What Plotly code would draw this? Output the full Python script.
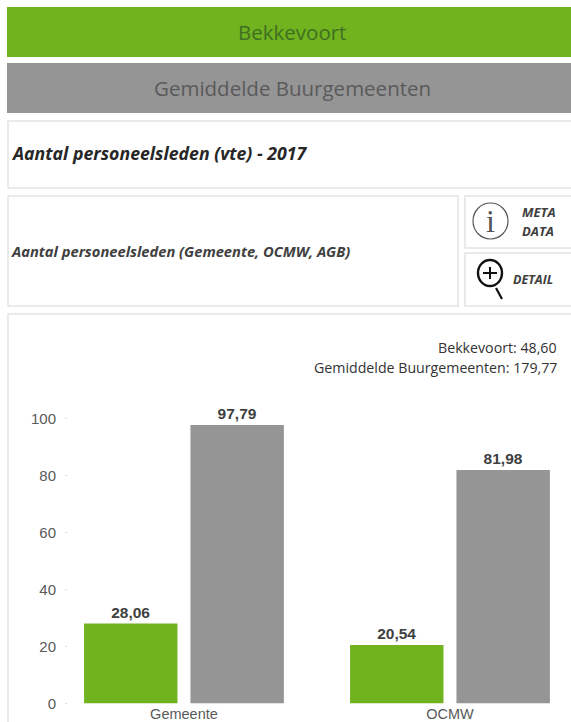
import plotly.graph_objects as go

W, H = 571, 722
categories = ["Gemeente", "OCMW"]
series_names = ["Bekkevoort", "Gemiddelde Buurgemeenten"]
bekkevoort = [28.06, 20.54]
buurgemeenten = [97.79, 81.98]
totals = [48.60, 179.77]
y_ticks = [0, 20, 40, 60, 80, 100]
title_main = "Aantal personeelsleden (vte) - 2017"
title_sub = "Aantal personeelsleden (Gemeente, OCMW, AGB)"

GREEN = "#70b31f"
GREY = "#959595"
BORDER = "#e4e4e4"
TXT = "#404040"
SANS = "'Open Sans', sans-serif"
ARIAL = "'Liberation Sans', Arial, sans-serif"


def px(x):
    return x / W


def py(y):
    return 1 - y / H


def rect(x0, y0, x1, y1, fill="white", line=BORDER, width=1.5):
    return dict(type="rect", xref="paper", yref="paper", layer="below",
                x0=px(x0), x1=px(x1), y0=py(y0), y1=py(y1),
                fillcolor=fill, line=dict(color=line, width=width))


def seg(x0, y0, x1, y1, color="#111111", width=2):
    return dict(type="line", xref="paper", yref="paper",
                x0=px(x0), x1=px(x1), y0=py(y0), y1=py(y1),
                line=dict(color=color, width=width))


def circle(x0, y0, x1, y1, color, width):
    return dict(type="circle", xref="paper", yref="paper",
                x0=px(x0), x1=px(x1), y0=py(y0), y1=py(y1),
                fillcolor="rgba(0,0,0,0)", line=dict(color=color, width=width))


def label(x, y, text, size, color=TXT, anchor="left", font=SANS, bold=False, italic=False):
    return dict(xref="paper", yref="paper", x=px(x), y=py(y), text=text,
                showarrow=False, xanchor=anchor, yanchor="middle",
                font=dict(family=font, size=size, color=color,
                          weight="bold" if bold else "normal",
                          style="italic" if italic else "normal"))


fig = go.Figure()
for name, vals, col in zip(series_names, [bekkevoort, buurgemeenten], [GREEN, GREY]):
    fig.add_trace(go.Bar(
        name=name, x=categories, y=vals, marker=dict(color=col, line=dict(width=0)),
        texttemplate="%{y:.2f}", textposition="outside", cliponaxis=False,
        textfont=dict(family=ARIAL, size=15.5, color="#3f3f3f", weight="bold"),
    ))

shapes = [
    rect(7, 7, 575, 57, GREEN, GREEN, 0),
    rect(7, 63, 575, 113, GREY, GREY, 0),
    rect(8, 121, 575, 188),
    rect(8, 196, 458, 306),
    rect(465, 196, 575, 248),
    rect(465, 253, 575, 306),
    rect(8, 314, 575, 730),
    circle(473, 203, 508, 239, "#555555", 1.2),
    circle(478, 260, 502, 286, "#111111", 2.4),
    seg(483, 273, 497, 273, "#111111", 2),
    seg(490, 267, 490, 279, "#111111", 2),
    seg(496, 288, 502, 299, "#111111", 2.2),
]

annotations = [
    label(292, 32, series_names[0], 20.5, "#3f6f22", "center"),
    label(292, 88, series_names[1], 20.5, "#5a5a5a", "center"),
    label(9, 153, title_main, 17.7, "#262626", bold=True, italic=True),
    label(9, 251, title_sub, 14.7, "#404040", bold=True, italic=True),
    label(490.5, 221, "i", 32, "#555555", "center", font="'Liberation Serif', serif"),
    label(538.5, 212, "META", 13, "#404040", "center", bold=True, italic=True),
    label(538, 231, "DATA", 13, "#404040", "center", bold=True, italic=True),
    label(533, 279, "DETAIL", 12.5, "#404040", "center", bold=True, italic=True),
    label(559, 347, f"{series_names[0]}: {totals[0]:.2f}".replace(".", ","), 14.2, "#333333", "right"),
    label(559, 367, f"{series_names[1]}: {totals[1]:.2f}".replace(".", ","), 14.2, "#333333", "right"),
]

fig.update_layout(
    width=W, height=H, autosize=False,
    margin=dict(l=0, r=0, t=0, b=0),
    paper_bgcolor="white", plot_bgcolor="rgba(0,0,0,0)",
    showlegend=False, separators=",.",
    barmode="group", bargap=0.2, bargroupgap=0.122,
    shapes=shapes, annotations=annotations,
    xaxis=dict(domain=[px(68), 1], range=[-0.436, 1.455], showgrid=False, zeroline=False,
               showline=False, ticks="", ticklen=0, automargin=False, ticklabelstandoff=0,
               tickfont=dict(family=ARIAL, size=14.5, color="#595959")),
    yaxis=dict(domain=[py(703.5), py(347.5)], range=[0, 125], tickvals=y_ticks,
               showgrid=False, zeroline=False, showline=False, automargin=False,
               ticks="outside", ticklen=2, tickcolor="#dddddd", tickwidth=1, ticklabelstandoff=6,
               tickfont=dict(family=ARIAL, size=15, color="#595959")),
)

fig.write_html("out.html", config=dict(displayModeBar=False),
               post_script="document.body.style.margin='0';document.documentElement.style.overflow='hidden';")
